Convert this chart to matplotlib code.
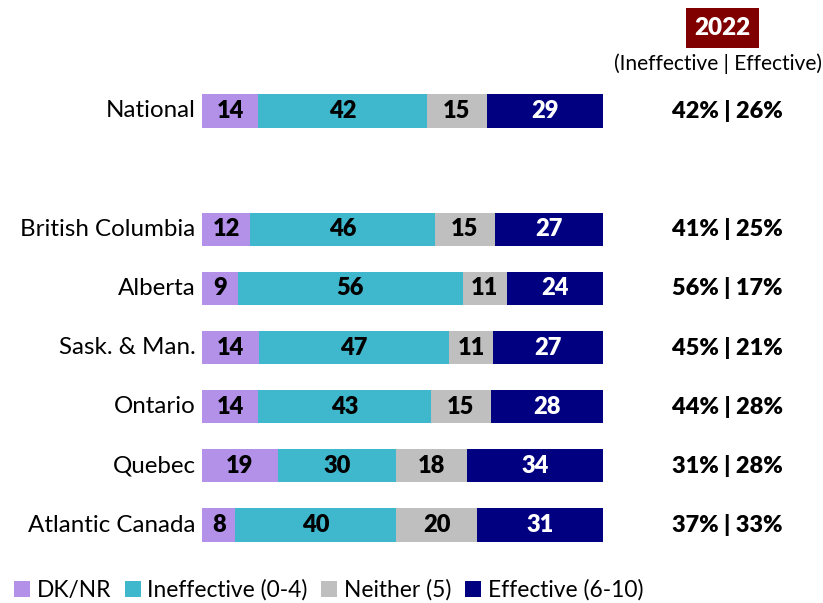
import matplotlib
matplotlib.use("Agg")
import matplotlib.pyplot as plt
from matplotlib.patches import Patch

regions = ["National", "British Columbia", "Alberta", "Sask. & Man.", "Ontario", "Quebec", "Atlantic Canada"]
dk_nr = [14, 12, 9, 14.2, 14, 18.9, 8.3]
ineffective = [42, 46, 56, 47.4, 43, 29.6, 40.2]
neither = [15, 15, 11, 11.0, 15, 17.7, 20.2]
effective = [29, 27, 24, 27.4, 28, 33.8, 31.3]
ineff_2022 = [42, 41, 56, 45, 44, 31, 37]
eff_2022 = [26, 25, 17, 21, 28, 28, 33]
series_names = ["DK/NR", "Ineffective (0-4)", "Neither (5)", "Effective (6-10)"]
colors = ["#B391E8", "#3FB8CE", "#BFBFBF", "#000080"]
text_colors = ["black", "black", "black", "white"]

FONT = "Lato"
plt.rcParams["font.family"] = [FONT, "DejaVu Sans"]

fig = plt.figure(figsize=(8.23, 6.03), dpi=100)
ax = fig.add_axes([202 / 823, 1 - 554.6 / 603, 401 / 823, (554.6 - 81.4) / 603])

positions = [0, 2, 3, 4, 5, 6, 7]
series = [dk_nr, ineffective, neither, effective]
for i, pos in enumerate(positions):
    left = 0
    for s, vals in enumerate(series):
        v = vals[i]
        ax.barh(pos, v, left=left, height=0.56, color=colors[s], edgecolor="none")
        ax.text(left + v / 2, pos, f"{v:.0f}", ha="center", va="center",
                fontsize=17, fontweight="heavy", color=text_colors[s])
        left += v
    ax.text(-1.6, pos, regions[i], ha="right", va="center", fontsize=17.4, color="black")
    ax.annotate(f"{ineff_2022[i]}% | {eff_2022[i]}%", xy=(727.5 / 823, pos),
                xycoords=("figure fraction", "data"), ha="center", va="center",
                fontsize=16.9, fontweight="heavy")

ax.set_xlim(0, 100)
ax.set_ylim(7.5, -0.5)
ax.axis("off")

fig.text(722.5 / 823, 1 - 28 / 603, "2022", ha="center", va="center", fontsize=17.5,
         fontweight="heavy", color="white",
         bbox=dict(boxstyle="square,pad=0.35", facecolor="#800000", edgecolor="none"))
fig.text(717.5 / 823, 1 - 64 / 603, "(Ineffective | Effective)", ha="center", va="center",
         fontsize=15.1, color="black")

handles = [Patch(facecolor=c, edgecolor="none") for c in colors]
fig.legend(handles, series_names, loc="center left", bbox_to_anchor=(0.0, 1 - 590 / 603),
           ncol=4, frameon=False, fontsize=16.4, handlelength=0.7, handleheight=0.7,
           handletextpad=0.3, columnspacing=0.6, borderaxespad=0.2)

fig.savefig("out.png", dpi=100)
